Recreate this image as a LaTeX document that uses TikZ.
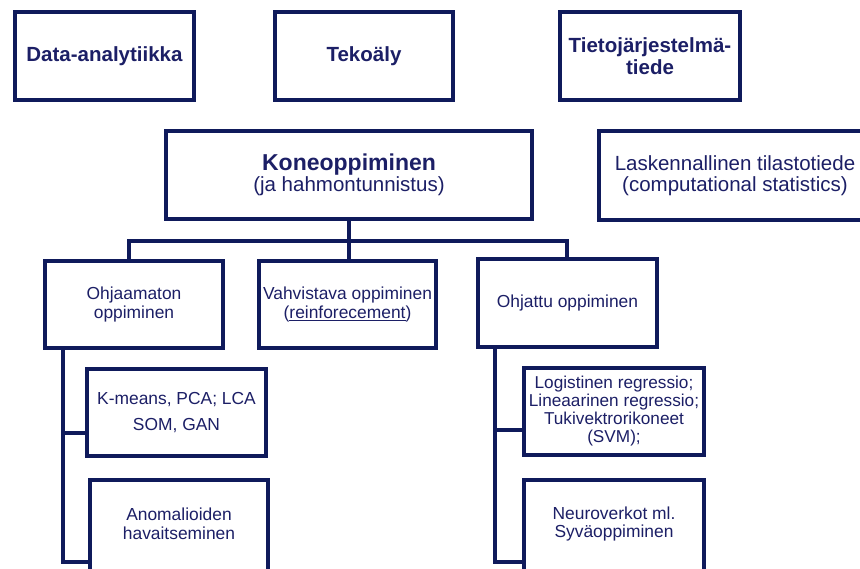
\documentclass[tikz,border=0pt]{standalone}
\usepackage{fontspec}
\setmainfont{Liberation Sans}
\definecolor{navy}{HTML}{0F1A5B}
\definecolor{ink}{HTML}{1C1F66}
\tikzset{
  box/.style={draw=navy, line width=4pt, fill=white, align=center, text=ink,
    inner sep=0pt, line join=miter},
  txt/.style={align=center, text=ink, inner sep=0pt},
  conn/.style={draw=navy, line width=4pt, line cap=rect, line join=miter},
  boldbig/.style={font=\bfseries\fontsize{20.5}{22}\selectfont},
  bigtxt/.style={font=\fontsize{20.5}{21.5}\selectfont},
  midtxt/.style={font=\fontsize{17.4}{18.5}\selectfont},
}
\begin{document}
\begin{tikzpicture}[x=1pt,y=-1pt]
\useasboundingbox (0,0) rectangle (860,568);
\clip (0,0) rectangle (860,568);
% top row
\node[box, boldbig, minimum width=179, minimum height=88] (da) at (104.5,56) {Data-analytiikka};
\node[box, boldbig, minimum width=178, minimum height=88] (tk) at (364,56) {Tekoäly};
\node[box, boldbig, minimum width=180, minimum height=88] (tj) at (650,56) {Tietojärjestelmä-\\tiede};
% second row
\node[box, bigtxt, minimum width=366, minimum height=88] (ko) at (349,175)
  {{\bfseries\fontsize{23}{22}\selectfont Koneoppiminen}\\(ja hahmontunnistus)};
\node[box, bigtxt, minimum width=272, minimum height=89] (la) at (735,175.5)
  {Laskennallinen tilastotiede\\(computational statistics)};
% third row
\node[box, midtxt, minimum width=178, minimum height=87] (oh) at (134,304.5) {Ohjaamaton\\oppiminen};
\node[box, midtxt, minimum width=177, minimum height=87] (va) at (347.5,304.5)
  {Vahvistava oppiminen\\(\underline{reinforecement})};
\node[box, midtxt, minimum width=179, minimum height=88] (oj) at (567.5,303) {Ohjattu oppiminen};
% lower rows
\node[box, font=\fontsize{17.4}{26}\selectfont, minimum width=179, minimum height=87] (km) at (176.5,412.5)
  {K-means, PCA; LCA\\SOM, GAN};
\node[box, minimum width=178, minimum height=110] (an) at (179,535) {};
\node[txt, midtxt] (antext) at (179,524) {Anomalioiden\\havaitseminen};
\node[box, font=\fontsize{17.2}{18}\selectfont, minimum width=180, minimum height=87] (lr) at (614,411.5)
  {Logistinen regressio;\\Lineaarinen regressio;\\Tukivektrorikoneet\\(SVM);};
\node[box, minimum width=180, minimum height=110] (nv) at (614,535) {};
\node[txt, midtxt] (nvtext) at (614,524) {Neuroverkot ml.\\Syväoppiminen};
% connectors
\coordinate (b1) at (129,241);
\coordinate (b3) at (567,241);
\draw[conn] (ko.south) -- (ko.south |- va.north);
\draw[conn] (b1 |- oh.north) -- (b1) -- (b3) -- (b3 |- oj.north);
\coordinate (lk) at (63,433);
\coordinate (lt) at (63,562);
\draw[conn] (oh.south -| lt) -- (lt) -- (lt -| an.west);
\draw[conn] (lk) -- (lk -| km.west);
\coordinate (rk) at (495,430);
\coordinate (rt) at (495,562);
\draw[conn] (oj.south -| rt) -- (rt) -- (rt -| nv.west);
\draw[conn] (rk) -- (rk -| lr.west);
\end{tikzpicture}
\end{document}
